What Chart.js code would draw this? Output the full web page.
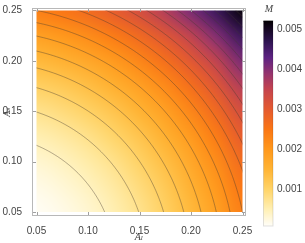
<!DOCTYPE html>
<html>
<head>
<meta charset="utf-8">
<script src="https://cdn.jsdelivr.net/npm/chart.js@4.4.1/dist/chart.umd.min.js"></script>
<style>
html, body { margin: 0; padding: 0; background: #fff; }
#caja { width: 305px; height: 243px; }
</style>
</head>
<body>
<div id="caja"><canvas id="mapa"></canvas></div>
<script>
// ticks de los ejes
var ejeTicks = [0.05, 0.10, 0.15, 0.20, 0.25];
// malla donde se leyeron los valores
var mallaX = [0.05, 0.075, 0.1, 0.125, 0.15, 0.175, 0.2, 0.225, 0.25];
var mallaY = [0.05, 0.075, 0.1, 0.125, 0.15, 0.175, 0.2, 0.225, 0.25];
// valores de M por renglon (y fija), de x=0.05 a x=0.25
var m_y050 = [0.0001093, 0.0001956, 0.000328, 0.0005124, 0.000754, 0.001057, 0.001425, 0.001863, 0.002372];
var m_y075 = [0.0001956, 0.0002892, 0.0004288, 0.0006204, 0.0008684, 0.001177, 0.001552, 0.001994, 0.00251];
var m_y100 = [0.000328, 0.0004288, 0.0005767, 0.0007764, 0.001033, 0.00135, 0.001732, 0.002182, 0.002705];
var m_y125 = [0.0005124, 0.0006204, 0.0007764, 0.0009854, 0.001251, 0.001577, 0.001968, 0.002427, 0.002958];
var m_y150 = [0.000754, 0.0008684, 0.001033, 0.001251, 0.001526, 0.001863, 0.002264, 0.002733, 0.003273];
var m_y175 = [0.001057, 0.001177, 0.00135, 0.001577, 0.001863, 0.002209, 0.002621, 0.003101, 0.003652];
var m_y200 = [0.001425, 0.001552, 0.001732, 0.001968, 0.002264, 0.002621, 0.003044, 0.003535, 0.004098];
var m_y225 = [0.001863, 0.001994, 0.002182, 0.002427, 0.002733, 0.003101, 0.003535, 0.004038, 0.004612];
var m_y250 = [0.002372, 0.00251, 0.002705, 0.002958, 0.003273, 0.003652, 0.004098, 0.004612, 0.0052];
// radios de las curvas de nivel (centradas en el origen)
var radiosNivel = [0.1265, 0.1574, 0.1805, 0.1994, 0.2156, 0.2301, 0.2431, 0.2550, 0.2661, 0.2764,
                   0.2861, 0.2953, 0.3040, 0.3123, 0.3202, 0.3278, 0.3352, 0.3422, 0.3491];
// barra de color
var barraTicks = [0.001, 0.002, 0.003, 0.004, 0.005];
var barraMin = 0.000083;
var barraMax = 0.005215;

var mallaM = [m_y050, m_y075, m_y100, m_y125, m_y150, m_y175, m_y200, m_y225, m_y250];

// paleta tipo SunsetColors invertida
var paleta = [
    [0.00008, [255, 254, 250]],
    [0.0005, [255, 240, 180]],
    [0.001, [255, 212, 104]],
    [0.0015, [255, 180, 52]],
    [0.002, [255, 152, 28]],
    [0.0025, [250, 118, 20]],
    [0.003, [228, 90, 48]],
    [0.0035, [196, 68, 78]],
    [0.0039, [148, 52, 110]],
    [0.0043, [92, 34, 130]],
    [0.0047, [46, 20, 80]],
    [0.0052, [5, 0, 5]]
];

function colorDe(v) {
    if (v <= paleta[0][0]) return paleta[0][1];
    for (var i = 1; i < paleta.length; i++) {
        if (v <= paleta[i][0]) {
            var a = paleta[i - 1], b = paleta[i];
            var t = (v - a[0]) / (b[0] - a[0]);
            return [0, 1, 2].map(function (k) { return Math.round(a[1][k] + t * (b[1][k] - a[1][k])); });
        }
    }
    return paleta[paleta.length - 1][1];
}

var textoGris = '#444';
var fuente = '"Liberation Sans", Arial, sans-serif';
var fuenteLetra = '"Liberation Serif", "DejaVu Serif", serif';

// pinta el mapa de densidad y las curvas de nivel
var mapaPlugin = {
    id: 'mapaDensidad',
    beforeDatasetsDraw: function (chart) {
        var ctx = chart.ctx, sx = chart.scales.x, sy = chart.scales.y;
        var n = mallaX.length, m = mallaY.length;
        var img = document.createElement('canvas');
        img.width = n; img.height = m;
        var ictx = img.getContext('2d');
        var datos = ictx.createImageData(n, m);
        for (var j = 0; j < m; j++) {
            for (var i = 0; i < n; i++) {
                var c = colorDe(mallaM[j][i]);
                var p = ((m - 1 - j) * n + i) * 4;
                datos.data[p] = c[0]; datos.data[p + 1] = c[1]; datos.data[p + 2] = c[2]; datos.data[p + 3] = 255;
            }
        }
        ictx.putImageData(datos, 0, 0);
        var hx = (mallaX[1] - mallaX[0]) / 2, hy = (mallaY[1] - mallaY[0]) / 2;
        var izq = sx.getPixelForValue(mallaX[0]), der = sx.getPixelForValue(mallaX[n - 1]);
        var arr = sy.getPixelForValue(mallaY[m - 1]), aba = sy.getPixelForValue(mallaY[0]);
        ctx.save();
        ctx.beginPath();
        ctx.rect(izq, arr, der - izq, aba - arr);
        ctx.clip();
        ctx.imageSmoothingEnabled = true;
        ctx.imageSmoothingQuality = 'high';
        var x0 = sx.getPixelForValue(mallaX[0] - hx), x1 = sx.getPixelForValue(mallaX[n - 1] + hx);
        var y0 = sy.getPixelForValue(mallaY[m - 1] + hy), y1 = sy.getPixelForValue(mallaY[0] - hy);
        ctx.drawImage(img, x0, y0, x1 - x0, y1 - y0);
        // curvas de nivel
        ctx.strokeStyle = 'rgba(70,60,50,0.45)';
        ctx.lineWidth = 0.9;
        radiosNivel.forEach(function (r) {
            ctx.beginPath();
            for (var k = 0; k <= 120; k++) {
                var a = k / 120 * Math.PI / 2;
                var px = sx.getPixelForValue(r * Math.cos(a)), py = sy.getPixelForValue(r * Math.sin(a));
                if (k === 0) ctx.moveTo(px, py); else ctx.lineTo(px, py);
            }
            ctx.stroke();
        });
        ctx.restore();
    },
    afterDraw: function (chart) {
        var ctx = chart.ctx, ca = chart.chartArea, sx = chart.scales.x, sy = chart.scales.y;
        ctx.save();
        // marco
        ctx.strokeStyle = '#b8b8b8';
        ctx.lineWidth = 1;
        ctx.strokeRect(ca.left + 0.5, ca.top + 0.5, ca.right - ca.left - 1, ca.bottom - ca.top - 1);
        // marcas de los ejes
        ctx.strokeStyle = '#a0a0a0';
        ejeTicks.forEach(function (t) {
            var px = Math.round(sx.getPixelForValue(t)) + 0.5;
            ctx.beginPath();
            ctx.moveTo(px, ca.bottom - 1); ctx.lineTo(px, ca.bottom - 4);
            ctx.moveTo(px, ca.top + 1); ctx.lineTo(px, ca.top + 4);
            ctx.stroke();
            var py = Math.round(sy.getPixelForValue(t)) + 0.5;
            ctx.beginPath();
            ctx.moveTo(ca.left + 1, py); ctx.lineTo(ca.left + 4, py);
            ctx.moveTo(ca.right - 1, py); ctx.lineTo(ca.right - 4, py);
            ctx.stroke();
        });
        // barra de color
        var bx = 263.5, bw = 9.5, bTop = 20.7, bBot = 226;
        function yBarra(v) { return bBot - (v - barraMin) / (barraMax - barraMin) * (bBot - bTop); }
        for (var y = Math.floor(bTop); y < bBot; y++) {
            var v = barraMax - (y + 0.5 - bTop) / (bBot - bTop) * (barraMax - barraMin);
            var c = colorDe(v);
            ctx.fillStyle = 'rgb(' + c[0] + ',' + c[1] + ',' + c[2] + ')';
            ctx.fillRect(bx, Math.max(y, bTop), bw, 1);
        }
        ctx.strokeStyle = 'rgba(0,0,0,0.12)';
        ctx.strokeRect(bx, bTop, bw, bBot - bTop);
        ctx.fillStyle = textoGris;
        ctx.font = '10px ' + fuente;
        ctx.textAlign = 'left';
        ctx.textBaseline = 'middle';
        barraTicks.forEach(function (t) {
            ctx.fillText(t.toFixed(3), 277, yBarra(t));
        });
        ctx.font = 'italic 10px ' + fuenteLetra;
        ctx.textAlign = 'center';
        ctx.fillText('M', 269, 9);
        ctx.restore();
    }
};

new Chart(document.getElementById('mapa'), {
    type: 'scatter',
    data: { datasets: [{ data: [] }] },
    options: {
        responsive: true,
        maintainAspectRatio: false,
        animation: false,
        events: [],
        layout: { padding: { left: 0, top: 4, right: 59, bottom: 0 } },
        plugins: { legend: { display: false }, tooltip: { enabled: false } },
        scales: {
            x: {
                type: 'linear',
                min: 0.045631, max: 0.253398,
                afterBuildTicks: function (s) { s.ticks = ejeTicks.map(function (v) { return { value: v }; }); },
                afterFit: function (s) { s.height = 27; },
                grid: { display: false },
                border: { display: false },
                ticks: {
                    padding: 1, color: textoGris, font: { size: 10, family: fuente },
                    maxRotation: 0, autoSkip: false,
                    callback: function (v) { return v.toFixed(2); }
                },
                title: { display: true, text: 'A\u2097', color: textoGris, font: { size: 10, family: fuenteLetra, style: 'italic' }, padding: { top: 0, bottom: 0 } }
            },
            y: {
                type: 'linear',
                min: 0.046107, max: 0.252433,
                afterBuildTicks: function (s) { s.ticks = ejeTicks.map(function (v) { return { value: v }; }); },
                afterFit: function (s) { s.width = 32; },
                grid: { display: false },
                border: { display: false },
                ticks: {
                    padding: 2, color: textoGris, font: { size: 10, family: fuente },
                    autoSkip: false,
                    callback: function (v) { return v.toFixed(2); }
                },
                title: { display: true, text: 'A\u209B', color: textoGris, font: { size: 10, family: fuenteLetra, style: 'italic' }, padding: { top: 1, bottom: 0 } }
            }
        }
    },
    plugins: [mapaPlugin]
});
</script>
</body>
</html>
